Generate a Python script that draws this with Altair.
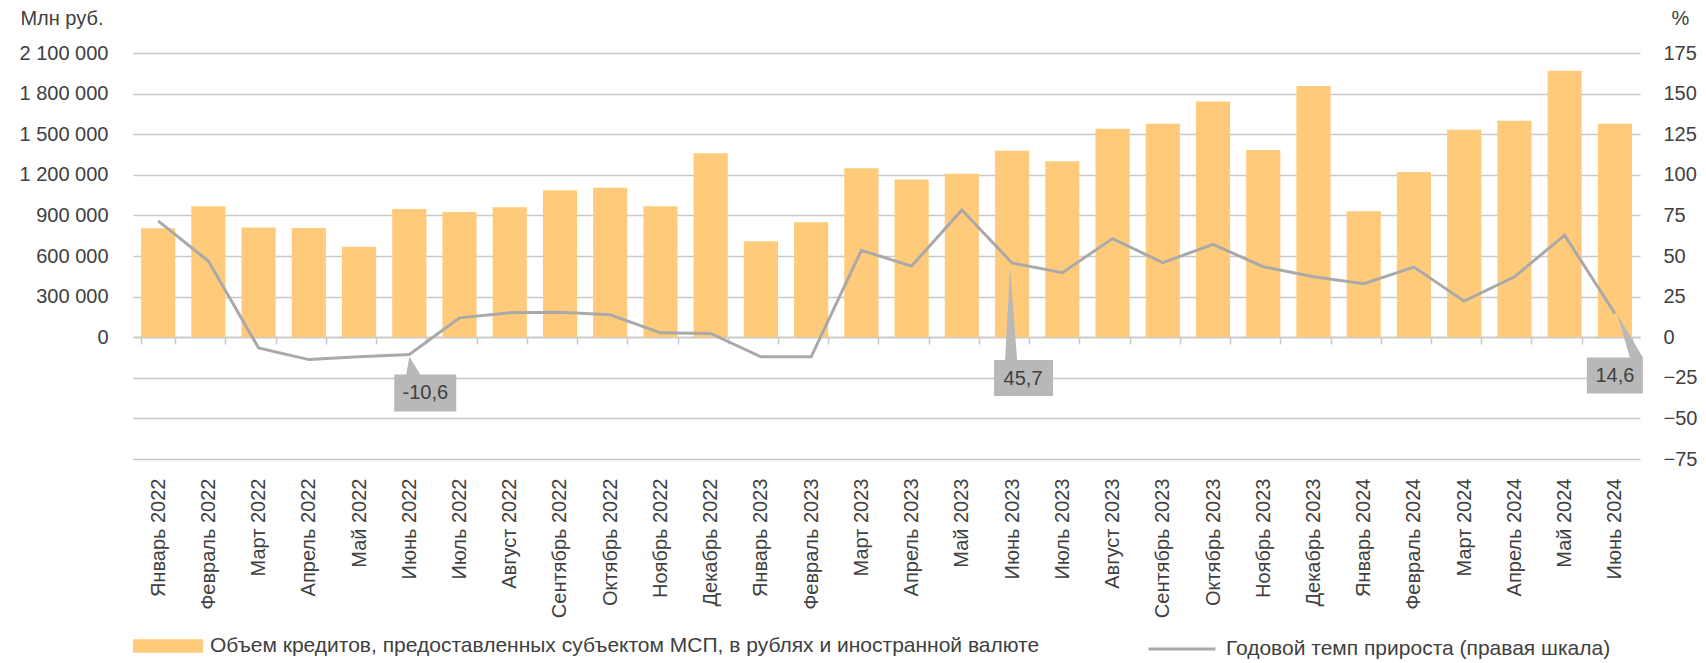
import altair as alt
import pandas as pd

months = ["Январь 2022", "Февраль 2022", "Март 2022", "Апрель 2022", "Май 2022", "Июнь 2022",
          "Июль 2022", "Август 2022", "Сентябрь 2022", "Октябрь 2022", "Ноябрь 2022", "Декабрь 2022",
          "Январь 2023", "Февраль 2023", "Март 2023", "Апрель 2023", "Май 2023", "Июнь 2023",
          "Июль 2023", "Август 2023", "Сентябрь 2023", "Октябрь 2023", "Ноябрь 2023", "Декабрь 2023",
          "Январь 2024", "Февраль 2024", "Март 2024", "Апрель 2024", "Май 2024", "Июнь 2024"]
volume = [805000, 968000, 810000, 807000, 669000, 948000, 926000, 960000, 1086000, 1104000,
          968000, 1360000, 709000, 849000, 1249000, 1165000, 1207000, 1378000, 1301000, 1541000,
          1578000, 1741000, 1383000, 1857000, 931000, 1220000, 1533000, 1600000, 1968000, 1578000]
growth = [71.6, 46.9, -6.6, -13.8, -12.0, -10.6, 11.9, 15.0, 15.4, 13.8,
          2.7, 2.3, -12.1, -12.1, 53.5, 43.8, 78.4, 45.7, 39.7, 60.7,
          45.9, 57.2, 43.4, 37.2, 32.9, 43.2, 22.2, 37.2, 62.8, 14.6]
left_ticks = [0, 300000, 600000, 900000, 1200000, 1500000, 1800000, 2100000]
right_ticks = [-75, -50, -25, 0, 25, 50, 75, 100, 125, 150, 175]
callout_months = ["Июнь 2022", "Июнь 2023", "Июнь 2024"]
callout_labels = ["-10,6", "45,7", "14,6"]
legend_bar = "Объем кредитов, предоставленных субъектом МСП, в рублях и иностранной валюте"
legend_line = "Годовой темп прироста (правая шкала)"

df = pd.DataFrame({"month": months, "volume": volume, "growth": growth})
df["s_bar"] = legend_bar
df["s_line"] = legend_line
call = df.set_index("month").loc[callout_months].reset_index()
call["label"] = callout_labels

FONT = "Liberation Sans"
TXT = "#404040"
ORANGE = "#FFCB7A"
LINEC = "#A9A9A9"
GRID = "#C8C8C8"
BOX = "#B8B8B8"
FS = 20
LFS = 21

x_enc = alt.X("month:N", sort=months, title=None,
              scale=alt.Scale(paddingInner=0.32, paddingOuter=0.16),
              axis=alt.Axis(orient="bottom", offset=-122, labelAngle=-90, labelPadding=134,
                            domain=True, domainColor=GRID, domainWidth=1.5,
                            ticks=True, tickBand="extent", tickSize=7, tickColor=GRID, tickWidth=1.5,
                            grid=False, labelFontSize=FS, labelColor=TXT, labelFont=FONT))

left_axis = alt.Axis(orient="left", values=left_ticks,
                     labelExpr="replace(format(datum.value, ',d'), regexp(',', 'g'), ' ')",
                     grid=False, ticks=False, domain=False, labelPadding=25,
                     labelFontSize=FS, labelColor=TXT, labelFont=FONT,
                     title="Млн руб.", titleAngle=0, titleAlign="right", titleX=-30, titleY=-29,
                     titleBaseline="alphabetic", titleFontSize=FS, titleFontWeight="normal",
                     titleColor=TXT, titleFont=FONT)

right_axis = alt.Axis(orient="right", values=right_ticks, format="d",
                      grid=True, gridColor=GRID, gridWidth=1.5, ticks=False, domain=False,
                      labelPadding=23, labelFontSize=FS, labelColor=TXT, labelFont=FONT,
                      title="%", titleAngle=0, titleAlign="center", titleX=40, titleY=-29,
                      titleBaseline="alphabetic", titleFontSize=FS, titleFontWeight="normal",
                      titleColor=TXT, titleFont=FONT)

y_right = alt.Y("growth:Q", scale=alt.Scale(domain=[-75, 175], nice=False, zero=False),
                axis=right_axis, title="%")

bars = alt.Chart(df).mark_bar().encode(
    x=x_enc,
    y=alt.Y("volume:Q", scale=alt.Scale(domain=[-900000, 2100000], nice=False, zero=False),
            axis=left_axis, title="Млн руб."),
    y2=alt.datum(0),
    color=alt.Color("s_bar:N", scale=alt.Scale(range=[ORANGE]),
                    legend=alt.Legend(orient="none", legendX=0, legendY=558, title=None,
                                      symbolType="M -1 -0.19 L 1 -0.19 L 1 0.19 L -1 0.19 Z",
                                      symbolSize=4900, symbolStrokeWidth=0, symbolOpacity=1,
                                      labelFontSize=LFS, labelColor=TXT, labelFont=FONT,
                                      labelOffset=7, padding=0, labelLimit=0)),
)

line = alt.Chart(df).mark_line(strokeWidth=3).encode(
    x=x_enc,
    y=y_right,
    stroke=alt.Stroke("s_line:N", scale=alt.Scale(range=[LINEC]),
                      legend=alt.Legend(orient="none", legendX=1014, legendY=561, title=None,
                                        symbolType="stroke", symbolSize=4489, symbolStrokeWidth=3,
                                        labelFontSize=LFS, labelColor=TXT, labelFont=FONT,
                                        labelOffset=9, padding=0, labelLimit=0)),
)

shapes = [
    "M 0 2 L 11 20 L 47 20 L 47 57 L -15 57 L -15 20 L -3 20 Z",
    "M -2 4 L 5 97 L 41 97 L 41 133 L -18 133 L -18 97 L -7 97 Z",
    "M 2 0 L 28 44 L 28 80 L -28 80 L -28 44 L 15 44 Z",
]
offsets = [(16, 39), (11, 116), (0, 63)]

callout_layers = []
for i, m in enumerate(callout_months):
    sub = call[call["month"] == m]
    box = alt.Chart(sub).mark_point(shape=shapes[i], size=4, filled=True, color=BOX,
                                     opacity=1, strokeWidth=0).encode(x=x_enc, y=y_right)
    txt = alt.Chart(sub).mark_text(dx=offsets[i][0], dy=offsets[i][1], fontSize=FS, font=FONT,
                                   color=TXT, align="center", baseline="middle").encode(
        x=x_enc, y=y_right, text="label:N")
    callout_layers += [box, txt]

right = alt.layer(line, *callout_layers)

chart = alt.layer(bars, right).resolve_scale(y="independent").properties(
    width=1507, height=406,
    autosize=alt.AutoSizeParams(type="none"),
    padding={"left": 125, "top": 45, "right": 58, "bottom": 204},
    background="white",
).configure_view(stroke=None)

chart.save("out.html", embed_options={"renderer": "svg", "actions": False})
